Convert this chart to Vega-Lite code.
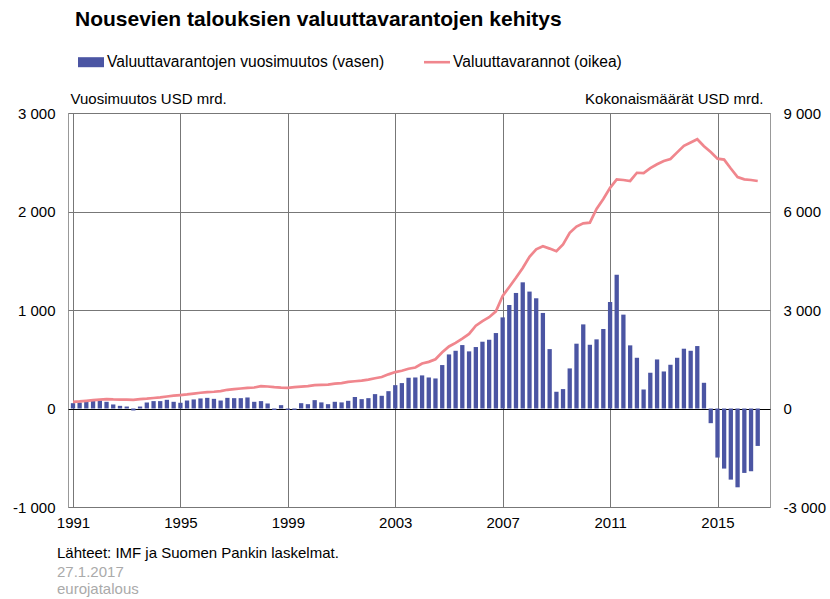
{
 "$schema": "https://vega.github.io/schema/vega-lite/v6.json",
 "width": 702,
 "height": 394,
 "autosize": {"type": "none"},
 "padding": {"left": 68, "top": 113, "right": 60, "bottom": 92},
 "background": "white",
 "config": {
  "font": "Liberation Sans",
  "locale": {"number": {"decimal": ",", "thousands": " ", "grouping": [3], "currency": ["", " €"], "minus": "-"}},
  "view": {"stroke": "#999"},
  "axis": {"labelFont": "Liberation Sans", "labelFontSize": 15, "labelColor": "#000", "titleFont": "Liberation Sans", "titleFontSize": 15, "titleFontWeight": "normal", "titleColor": "#000", "ticks": false, "domain": false, "gridColor": "#777", "gridOpacity": 1, "gridWidth": 1}
 },
 "title": {"text": "Lähteet: IMF ja Suomen Pankin laskelmat.", "subtitle": ["27.1.2017", "eurojatalous"], "orient": "bottom", "anchor": "start", "frame": "group", "dx": -11, "offset": 16, "fontSize": 15, "fontWeight": "normal", "color": "#000", "font": "Liberation Sans", "subtitleFont": "Liberation Sans", "subtitleFontSize": 15, "subtitleColor": "#aaa", "subtitlePadding": 4, "subtitleLineHeight": 17},
 "data": {"values": [
  {"d": "1991-01-01", "muutos": 54, "varannot": 200},
  {"d": "1991-04-01", "muutos": 61, "varannot": 215},
  {"d": "1991-07-01", "muutos": 68, "varannot": 235},
  {"d": "1991-10-01", "muutos": 75, "varannot": 255},
  {"d": "1992-01-01", "muutos": 81, "varannot": 270},
  {"d": "1992-04-01", "muutos": 68, "varannot": 285},
  {"d": "1992-07-01", "muutos": 41, "varannot": 275},
  {"d": "1992-10-01", "muutos": 27, "varannot": 270},
  {"d": "1993-01-01", "muutos": 20, "varannot": 270},
  {"d": "1993-04-01", "muutos": -20, "varannot": 265},
  {"d": "1993-07-01", "muutos": 20, "varannot": 285},
  {"d": "1993-10-01", "muutos": 61, "varannot": 300},
  {"d": "1994-01-01", "muutos": 75, "varannot": 320},
  {"d": "1994-04-01", "muutos": 75, "varannot": 340},
  {"d": "1994-07-01", "muutos": 88, "varannot": 365},
  {"d": "1994-10-01", "muutos": 68, "varannot": 390},
  {"d": "1995-01-01", "muutos": 58, "varannot": 410},
  {"d": "1995-04-01", "muutos": 81, "varannot": 430},
  {"d": "1995-07-01", "muutos": 92, "varannot": 455},
  {"d": "1995-10-01", "muutos": 102, "varannot": 480},
  {"d": "1996-01-01", "muutos": 108, "varannot": 500},
  {"d": "1996-04-01", "muutos": 98, "varannot": 510},
  {"d": "1996-07-01", "muutos": 81, "varannot": 530},
  {"d": "1996-10-01", "muutos": 108, "varannot": 570},
  {"d": "1997-01-01", "muutos": 105, "varannot": 590},
  {"d": "1997-04-01", "muutos": 105, "varannot": 610},
  {"d": "1997-07-01", "muutos": 112, "varannot": 630},
  {"d": "1997-10-01", "muutos": 68, "varannot": 640},
  {"d": "1998-01-01", "muutos": 75, "varannot": 680},
  {"d": "1998-04-01", "muutos": 51, "varannot": 670},
  {"d": "1998-07-01", "muutos": -15, "varannot": 650},
  {"d": "1998-10-01", "muutos": 34, "varannot": 635},
  {"d": "1999-01-01", "muutos": -14, "varannot": 630},
  {"d": "1999-04-01", "muutos": -14, "varannot": 650},
  {"d": "1999-07-01", "muutos": 54, "varannot": 665},
  {"d": "1999-10-01", "muutos": 44, "varannot": 680},
  {"d": "2000-01-01", "muutos": 85, "varannot": 710},
  {"d": "2000-04-01", "muutos": 62, "varannot": 720},
  {"d": "2000-07-01", "muutos": 44, "varannot": 730},
  {"d": "2000-10-01", "muutos": 68, "varannot": 760},
  {"d": "2001-01-01", "muutos": 62, "varannot": 775},
  {"d": "2001-04-01", "muutos": 78, "varannot": 810},
  {"d": "2001-07-01", "muutos": 117, "varannot": 830},
  {"d": "2001-10-01", "muutos": 95, "varannot": 850},
  {"d": "2002-01-01", "muutos": 105, "varannot": 880},
  {"d": "2002-04-01", "muutos": 146, "varannot": 920},
  {"d": "2002-07-01", "muutos": 129, "varannot": 960},
  {"d": "2002-10-01", "muutos": 176, "varannot": 1040},
  {"d": "2003-01-01", "muutos": 237, "varannot": 1110},
  {"d": "2003-04-01", "muutos": 258, "varannot": 1150},
  {"d": "2003-07-01", "muutos": 312, "varannot": 1210},
  {"d": "2003-10-01", "muutos": 315, "varannot": 1250},
  {"d": "2004-01-01", "muutos": 336, "varannot": 1370},
  {"d": "2004-04-01", "muutos": 315, "varannot": 1420},
  {"d": "2004-07-01", "muutos": 305, "varannot": 1500},
  {"d": "2004-10-01", "muutos": 441, "varannot": 1710},
  {"d": "2005-01-01", "muutos": 549, "varannot": 1890},
  {"d": "2005-04-01", "muutos": 586, "varannot": 2000},
  {"d": "2005-07-01", "muutos": 644, "varannot": 2130},
  {"d": "2005-10-01", "muutos": 580, "varannot": 2270},
  {"d": "2006-01-01", "muutos": 624, "varannot": 2520},
  {"d": "2006-04-01", "muutos": 678, "varannot": 2660},
  {"d": "2006-07-01", "muutos": 698, "varannot": 2780},
  {"d": "2006-10-01", "muutos": 766, "varannot": 2960},
  {"d": "2007-01-01", "muutos": 925, "varannot": 3430},
  {"d": "2007-04-01", "muutos": 1051, "varannot": 3700},
  {"d": "2007-07-01", "muutos": 1173, "varannot": 3980},
  {"d": "2007-10-01", "muutos": 1281, "varannot": 4280},
  {"d": "2008-01-01", "muutos": 1187, "varannot": 4620},
  {"d": "2008-04-01", "muutos": 1119, "varannot": 4850},
  {"d": "2008-07-01", "muutos": 970, "varannot": 4940},
  {"d": "2008-10-01", "muutos": 603, "varannot": 4870},
  {"d": "2009-01-01", "muutos": 170, "varannot": 4790},
  {"d": "2009-04-01", "muutos": 197, "varannot": 5000},
  {"d": "2009-07-01", "muutos": 407, "varannot": 5350},
  {"d": "2009-10-01", "muutos": 658, "varannot": 5540},
  {"d": "2010-01-01", "muutos": 854, "varannot": 5640},
  {"d": "2010-04-01", "muutos": 647, "varannot": 5660},
  {"d": "2010-07-01", "muutos": 702, "varannot": 6080},
  {"d": "2010-10-01", "muutos": 807, "varannot": 6380},
  {"d": "2011-01-01", "muutos": 1081, "varannot": 6720},
  {"d": "2011-04-01", "muutos": 1359, "varannot": 6980},
  {"d": "2011-07-01", "muutos": 953, "varannot": 6960},
  {"d": "2011-10-01", "muutos": 641, "varannot": 6930},
  {"d": "2012-01-01", "muutos": 515, "varannot": 7180},
  {"d": "2012-04-01", "muutos": 193, "varannot": 7170},
  {"d": "2012-07-01", "muutos": 363, "varannot": 7320},
  {"d": "2012-10-01", "muutos": 498, "varannot": 7440},
  {"d": "2013-01-01", "muutos": 376, "varannot": 7540},
  {"d": "2013-04-01", "muutos": 444, "varannot": 7600},
  {"d": "2013-07-01", "muutos": 515, "varannot": 7800},
  {"d": "2013-10-01", "muutos": 607, "varannot": 8000},
  {"d": "2014-01-01", "muutos": 586, "varannot": 8100},
  {"d": "2014-04-01", "muutos": 634, "varannot": 8200},
  {"d": "2014-07-01", "muutos": 261, "varannot": 7990},
  {"d": "2014-10-01", "muutos": -149, "varannot": 7810},
  {"d": "2015-01-01", "muutos": -498, "varannot": 7610},
  {"d": "2015-04-01", "muutos": -610, "varannot": 7580},
  {"d": "2015-07-01", "muutos": -722, "varannot": 7310},
  {"d": "2015-10-01", "muutos": -800, "varannot": 7050},
  {"d": "2016-01-01", "muutos": -654, "varannot": 6980},
  {"d": "2016-04-01", "muutos": -637, "varannot": 6960},
  {"d": "2016-07-01", "muutos": -380, "varannot": 6930}
 ]},
 "layer": [
  {
   "mark": {"type": "bar", "width": 4.3},
   "encoding": {
    "x": {"field": "d", "type": "temporal",
          "scale": {"type": "utc", "domain": [{"year": 1991, "month": 1, "date": 1, "utc": true}, {"year": 2016, "month": 10, "date": 8, "utc": true}]},
          "axis": {"title": null, "values": [{"year": 1991, "utc": true}, {"year": 1995, "utc": true}, {"year": 1999, "utc": true}, {"year": 2003, "utc": true}, {"year": 2007, "utc": true}, {"year": 2011, "utc": true}, {"year": 2015, "utc": true}], "format": "%Y", "formatType": "utc", "labelPadding": 8, "grid": true}},
    "y": {"field": "muutos", "type": "quantitative",
          "scale": {"domain": [-1000, 3000], "nice": false},
          "axis": {"values": [-1000, 0, 1000, 2000, 3000], "format": ",d", "title": "Vuosimuutos USD mrd.", "titleAngle": 0, "titleAlign": "left", "titleBaseline": "middle", "titleX": 2, "titleY": -15, "labelPadding": 13, "grid": true, "gridColor": {"condition": {"test": "datum.value === 0", "value": "#000"}, "value": "#777"}}},
    "color": {"datum": "Valuuttavarantojen vuosimuutos (vasen)", "type": "nominal",
              "scale": {"domain": ["Valuuttavarantojen vuosimuutos (vasen)", "Valuuttavarannot (oikea)"], "range": ["#4b55a3", "#f0868d"]},
              "legend": {"orient": "none", "legendX": 7, "legendY": -104, "direction": "horizontal",
                         "title": "Nousevien talouksien valuuttavarantojen kehitys", "titleFontSize": 21, "titleFontWeight": "bold", "titleColor": "#000", "titleFont": "Liberation Sans", "titleLimit": 800, "titleOrient": "top", "titleAnchor": "start", "titlePadding": 19,
                         "labelFontSize": 15.6, "labelColor": "#000", "labelFont": "Liberation Sans", "labelLimit": 400, "labelOffset": 3,
                         "symbolSize": 676, "symbolOffset": 3, "columnPadding": 36, "symbolStrokeWidth": 0,
                         "encode": {"symbols": {"update": {"shape": {"signal": "datum.value === 'Valuuttavarannot (oikea)' ? 'M-1,-0.1H1V0.1H-1Z' : 'M-1,-0.385H1V0.385H-1Z'"}}}}}}
   }
  },
  {
   "mark": {"type": "line", "color": "#f0868d", "strokeWidth": 2.7},
   "encoding": {
    "x": {"field": "d", "type": "temporal"},
    "y": {"field": "varannot", "type": "quantitative",
          "scale": {"domain": [-3000, 9000], "nice": false},
          "axis": {"orient": "right", "values": [-3000, 0, 3000, 6000, 9000], "format": ",d", "title": "Kokonaismäärät USD mrd.", "titleAngle": 0, "titleAlign": "right", "titleBaseline": "middle", "titleX": -7, "titleY": -15, "labelPadding": 13, "grid": false}}
   }
  }
 ],
 "resolve": {"scale": {"y": "independent"}}
}
